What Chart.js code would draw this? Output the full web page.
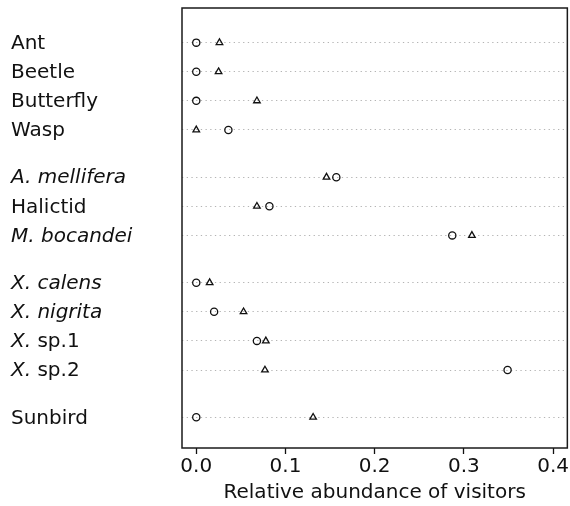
<!DOCTYPE html>
<html>
<head>
<meta charset="utf-8">
<script src="https://cdn.jsdelivr.net/npm/chart.js@4/dist/chart.umd.min.js"></script>
<style>
  html, body { margin: 0; padding: 0; background: #fff; }
  #wrap { width: 570px; height: 506px; position: relative; }
</style>
</head>
<body>
<div id="wrap"><canvas id="chart"></canvas></div>
<script>
// Flower visitors, grouped: other insects, bees, carpenter bees, birds
const categories = ['Ant', 'Beetle', 'Butterfly', 'Wasp',
  'A. mellifera', 'Halictid', 'M. bocandei',
  'X. calens', 'X. nigrita', 'X. sp.1', 'X. sp.2',
  'Sunbird'];
const visitorGroup = [0, 0, 0, 0, 1, 1, 1, 2, 2, 2, 2, 3];

// Relative abundance of each visitor (open circles / open triangles)
const circleValues   = [0.000, 0.000, 0.000, 0.036, 0.157, 0.082, 0.287, 0.000, 0.020, 0.068, 0.349, 0.000];
const triangleValues = [0.026, 0.025, 0.068, 0.000, 0.146, 0.068, 0.309, 0.015, 0.053, 0.078, 0.077, 0.131];

const xTicks = [0.0, 0.1, 0.2, 0.3, 0.4];

// Row layout: one unit per visitor, an extra gap between groups
const GROUP_GAP = 0.625;
const rowPos = categories.map((_, i) => i + visitorGroup[i] * GROUP_GAP);

const FONT = 'DejaVu Sans';

const toPoints = vals => vals.map((v, i) => ({ x: v, y: rowPos[i] }));

// Genus abbreviations are set in italics; "sp.N" stays upright
function labelParts(name) {
  const m = name.match(/^([A-Z]\.)\s(.*)$/);
  if (!m) return [[name, false]];
  if (/^sp\.\d+$/.test(m[2])) return [[m[1], true], [' ' + m[2], false]];
  return [[name, true]];
}

const frameAndLabels = {
  id: 'frameAndLabels',
  afterDraw(chart) {
    const { ctx, chartArea: a, scales } = chart;
    ctx.save();
    ctx.strokeStyle = '#1a1a1a';
    ctx.lineWidth = 1.5;
    ctx.strokeRect(a.left, a.top, a.right - a.left, a.bottom - a.top);

    ctx.fillStyle = '#111';
    ctx.textBaseline = 'middle';
    ctx.textAlign = 'left';
    categories.forEach((name, i) => {
      const y = scales.y.getPixelForValue(rowPos[i]) + 1;
      let x = 11;
      labelParts(name).forEach(([txt, ital]) => {
        ctx.font = (ital ? 'italic ' : '') + '20px "' + FONT + '"';
        ctx.fillText(txt, x, y);
        x += ctx.measureText(txt).width;
      });
    });
    ctx.restore();
  }
};

new Chart(document.getElementById('chart'), {
  type: 'scatter',
  data: {
    datasets: [
      {
        label: 'Circles',
        data: toPoints(circleValues),
        pointStyle: 'circle',
        pointRadius: 3.6,
        pointHoverRadius: 3.6,
        pointBorderWidth: 1.3,
        borderColor: '#111',
        backgroundColor: 'rgba(0,0,0,0)'
      },
      {
        label: 'Triangles',
        data: toPoints(triangleValues),
        pointStyle: 'triangle',
        pointRadius: 3.8,
        pointHoverRadius: 3.8,
        pointBorderWidth: 1.3,
        borderColor: '#111',
        backgroundColor: 'rgba(0,0,0,0)'
      }
    ]
  },
  options: {
    responsive: true,
    maintainAspectRatio: false,
    animation: false,
    layout: { autoPadding: false, padding: { top: 8, right: 0.5, left: 0, bottom: 0 } },
    plugins: {
      legend: { display: false },
      tooltip: { enabled: false }
    },
    scales: {
      x: {
        type: 'linear',
        min: -0.016,
        max: 0.416,
        afterBuildTicks: s => { s.ticks = xTicks.map(v => ({ value: v })); },
        afterFit: s => { s.height = 58; },
        grid: {
          drawOnChartArea: false,
          drawTicks: true,
          tickLength: 6,
          tickColor: '#111',
          tickWidth: 1.3,
          color: '#111'
        },
        border: { display: false },
        ticks: {
          padding: 1,
          color: '#111',
          font: { family: FONT, size: 20 },
          callback: v => Number(v).toFixed(1),
          maxRotation: 0,
          autoSkip: false
        },
        title: {
          display: true,
          text: 'Relative abundance of visitors',
          color: '#111',
          font: { family: FONT, size: 20 },
          padding: { top: 0, bottom: 1 }
        }
      },
      y: {
        type: 'linear',
        reverse: true,
        min: -1.19,
        max: 13.93,
        afterBuildTicks: s => { s.ticks = rowPos.map(v => ({ value: v })); },
        afterFit: s => { s.width = 182; },
        ticks: { display: false },
        grid: {
          drawTicks: false,
          color: '#b4b4b4',
          lineWidth: 1,
          borderDash: [1.3, 3.4]
        },
        border: { display: false, dash: [1.3, 3.4] }
      }
    }
  },
  plugins: [frameAndLabels]
});
</script>
</body>
</html>
